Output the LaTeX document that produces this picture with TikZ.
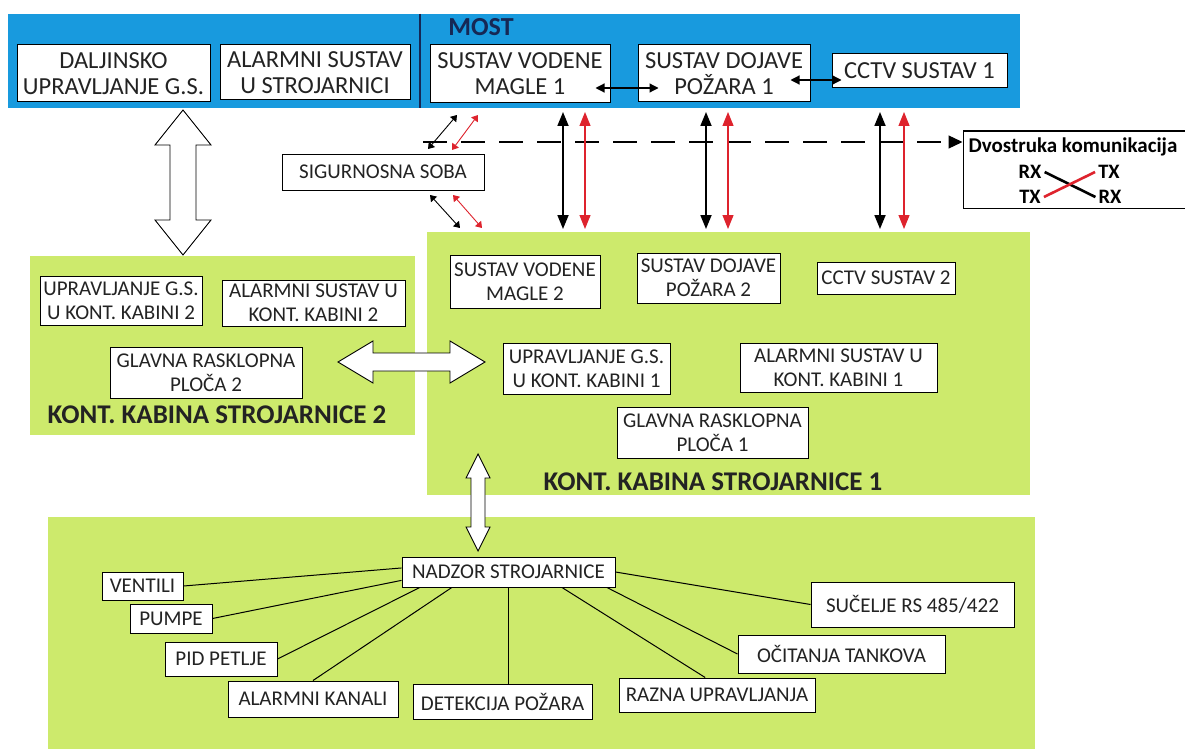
\documentclass[tikz,border=0pt]{standalone}
\usepackage{fontspec}
\setmainfont{Carlito}
\usetikzlibrary{arrows.meta,calc}
\definecolor{mostblue}{RGB}{24,154,222}
\definecolor{kgreen}{RGB}{205,234,108}
\definecolor{navy}{RGB}{22,40,85}
\definecolor{cred}{RGB}{222,35,45}
\definecolor{txt}{RGB}{35,35,35}
\newcommand\myVArrow[6]{%
 \filldraw[fill=white,draw=black,line width=0.9pt] (#1,#2) -- (#1+#5,#2+#6) -- (#1+#4,#2+#6) -- (#1+#4,#3-#6) -- (#1+#5,#3-#6) -- (#1,#3) -- (#1-#5,#3-#6) -- (#1-#4,#3-#6) -- (#1-#4,#2+#6) -- (#1-#5,#2+#6) -- cycle;}
\newcommand\myHArrow[6]{%
 \filldraw[fill=white,draw=black,line width=0.9pt] (#2,#1) -- (#2+#6,#1-#5) -- (#2+#6,#1-#4) -- (#3-#6,#1-#4) -- (#3-#6,#1-#5) -- (#3,#1) -- (#3-#6,#1+#5) -- (#3-#6,#1+#4) -- (#2+#6,#1+#4) -- (#2+#6,#1+#5) -- cycle;}
\begin{document}
\begin{tikzpicture}[x=1pt,y=-1pt,
  bx/.style={draw=black,line width=1pt,fill=white,inner sep=0pt,align=center,text=txt,font=\fontsize{21}{24}\selectfont},
  bxt/.style={bx,font=\fontsize{24.5}{26}\selectfont},
  ttl/.style={font=\bfseries\fontsize{27}{30}\selectfont,text=txt,inner sep=0pt},
  lgt/.style={font=\bfseries\fontsize{20.5}{22}\selectfont,text=black,inner sep=1pt},
  sarr/.style={line width=1.2pt,{Triangle[length=9pt,width=9pt]}-{Triangle[length=9pt,width=9pt]}},
  vblk/.style={line width=1.8pt,black,{Triangle[length=14pt,width=11pt]}-{Triangle[length=14pt,width=11pt]}},
  vred/.style={line width=1.2pt,cred,{Triangle[length=14pt,width=11pt]}-{Triangle[length=14pt,width=11pt]}},
  dblk/.style={line width=0.9pt,black,{Triangle[length=6pt,width=8pt]}-{Triangle[length=6pt,width=8pt]}},
  dred/.style={line width=0.9pt,cred,{Triangle[length=6pt,width=8pt]}-{Triangle[length=6pt,width=8pt]}},
  conn/.style={line width=1pt,black}]
\useasboundingbox (0,0) rectangle (1185,749);
\fill[white] (0,0) rectangle (1185,749);
% areas
\fill[mostblue] (8,14) rectangle (1020,108);
\draw[navy,line width=1.2pt] (420,14) -- (420,108);
\fill[kgreen] (30,256) rectangle (415,435);
\fill[kgreen] (427,232) rectangle (1030,495);
\fill[kgreen] (48,517) rectangle (1035,749);
\node[font=\bfseries\fontsize{26}{28}\selectfont,text=navy,inner sep=0pt] (most) at (481,27) {MOST};
% top boxes
\node[bxt,minimum width=193pt,minimum height=57pt] (dal) at (113.5,73.5) {DALJINSKO\\UPRAVLJANJE G.S.};
\node[bxt,minimum width=190pt,minimum height=55pt] (alm) at (315,72.5) {ALARMNI SUSTAV\\U STROJARNICI};
\node[bxt,minimum width=180pt,minimum height=58pt] (vm1) at (520,74) {SUSTAV VODENE\\MAGLE 1};
\node[bxt,minimum width=172pt,minimum height=57pt] (dp1) at (724,73.5) {SUSTAV DOJAVE\\POŽARA 1};
\node[bxt,minimum width=175pt,minimum height=34pt] (cc1) at (919.5,71) {CCTV SUSTAV 1};
\draw[sarr] ([xshift=-15pt,yshift=-14pt]vm1.east) -- ([xshift=21pt,yshift=-14.5pt]dp1.west);
\draw[sarr] ([xshift=-20pt,yshift=-6.5pt]dp1.east) -- ([xshift=10pt,yshift=-9pt]cc1.west);
% security room
\node[bx,minimum width=202pt,minimum height=36pt] (sig) at (383,172) {SIGURNOSNA SOBA};
% legend
\node[draw=black,line width=1pt,fill=white,minimum width=222pt,minimum height=77pt,inner sep=0pt] (leg) at (1074,169.5) {};
\node[font=\bfseries\fontsize{21}{24}\selectfont,inner sep=0pt] (legt) at (1073,147) {Dvostruka komunikacija};
\node[lgt] (rx1) at (1030,172) {RX};
\node[lgt] (tx1) at (1109,172) {TX};
\node[lgt] (tx2) at (1030,197) {TX};
\node[lgt] (rx2) at (1110,197) {RX};
\draw[line width=2.6pt,black] ([xshift=2pt]rx1.east) -- ([xshift=-2pt]rx2.west);
\draw[line width=2.6pt,cred] ([xshift=2pt]tx2.east) -- ([xshift=-2pt]tx1.west);
% dashed line
\coordinate (dsh) at (423,142);
\draw[line width=1.3pt,dash pattern=on 24pt off 14pt,-{Triangle[length=14pt,width=13pt]}] (dsh) -- (leg.west |- dsh);
% diagonal small arrows
\coordinate (s1a) at (428,149); \coordinate (s1b) at (457,115);
\coordinate (s2a) at (452,150); \coordinate (s2b) at (478,115);
\coordinate (s3a) at (430,195); \coordinate (s3b) at (460,228);
\coordinate (s4a) at (453,195); \coordinate (s4b) at (482,228);
\draw[dblk] (s1a) -- (s1b);
\draw[dred] (s2a) -- (s2b);
\draw[dblk] (s3a) -- (s3b);
\draw[dred] (s4a) -- (s4b);
% vertical pairs
\foreach \xb/\xr/\n in {563/585/1,706/728/2,880/904/3}{
  \coordinate (b\n t) at (\xb,112); \coordinate (b\n b) at (\xb,229);
  \coordinate (r\n t) at (\xr,112); \coordinate (r\n b) at (\xr,229);
  \draw[vblk] (b\n t) -- (b\n b);
  \draw[vred] (r\n t) -- (r\n b);
}
% hollow arrows
\myVArrow{183}{110}{255}{13}{28}{35}
\myHArrow{362}{338}{485}{9}{21}{35}
\myVArrow{478}{454}{551}{7}{12}{24}
% cabin 2
\node[bx,minimum width=162pt,minimum height=49pt] (u2) at (121,300.5) {UPRAVLJANJE G.S.\\U KONT. KABINI 2};
\node[bx,minimum width=183pt,minimum height=46pt] (a2) at (313.5,303) {ALARMNI SUSTAV U\\KONT. KABINI 2};
\node[bx,minimum width=192pt,minimum height=51pt] (g2) at (206,372.5) {GLAVNA RASKLOPNA\\PLOČA 2};
\node[ttl] (t2) at (217,415) {KONT. KABINA STROJARNICE 2};
% cabin 1
\node[bx,minimum width=150pt,minimum height=53pt] (vm2) at (525,281.5) {SUSTAV VODENE\\MAGLE 2};
\node[bx,minimum width=143pt,minimum height=50pt] (dp2) at (708.5,278) {SUSTAV DOJAVE\\POŽARA 2};
\node[bx,minimum width=138pt,minimum height=32pt] (cc2) at (886,278) {CCTV SUSTAV 2};
\node[bx,minimum width=167pt,minimum height=51pt] (u1) at (586.5,368.5) {UPRAVLJANJE G.S.\\U KONT. KABINI 1};
\node[bx,minimum width=197pt,minimum height=49pt] (a1) at (838.5,367.5) {ALARMNI SUSTAV U\\KONT. KABINI 1};
\node[bx,minimum width=191pt,minimum height=51pt] (g1) at (712.5,432.5) {GLAVNA RASKLOPNA\\PLOČA 1};
\node[ttl] (t1) at (713,482) {KONT. KABINA STROJARNICE 1};
% engine room monitoring
\node[bx,minimum width=213pt,minimum height=30pt] (nad) at (508.5,572) {NADZOR STROJARNICE};
\node[bx,minimum width=81pt,minimum height=28pt] (ven) at (142.5,586) {VENTILI};
\node[bx,minimum width=82pt,minimum height=29pt] (pum) at (171,618.5) {PUMPE};
\node[bx,minimum width=112pt,minimum height=34pt] (pid) at (221,659) {PID PETLJE};
\node[bx,minimum width=170pt,minimum height=36pt] (akn) at (313,699) {ALARMNI KANALI};
\node[bx,minimum width=179pt,minimum height=35pt] (det) at (502.5,701.5) {DETEKCIJA POŽARA};
\node[bx,minimum width=196pt,minimum height=34pt] (raz) at (717,695) {RAZNA UPRAVLJANJA};
\node[bx,minimum width=207pt,minimum height=38pt] (oci) at (841.5,654) {OČITANJA TANKOVA};
\node[bx,minimum width=203pt,minimum height=45pt] (suc) at (912.5,604.5) {SUČELJE RS 485/422};
\draw[conn] ($(nad.north west)!0.37!(nad.south west)$) -- (ven.east);
\draw[conn] ($(nad.north west)!0.77!(nad.south west)$) -- (pum.east);
\draw[conn] ($(nad.south west)!0.085!(nad.south east)$) -- (pid.east);
\draw[conn] ($(nad.south west)!0.235!(nad.south east)$) -- (akn.north);
\draw[conn] (nad.south) -- (nad.south |- det.north);
\draw[conn] ($(nad.south west)!0.75!(nad.south east)$) -- ($(raz.north west)!0.44!(raz.north east)$);
\draw[conn] ($(nad.south west)!0.96!(nad.south east)$) -- (oci.west);
\draw[conn] (nad.east) -- (suc.west);
\end{tikzpicture}
\end{document}
